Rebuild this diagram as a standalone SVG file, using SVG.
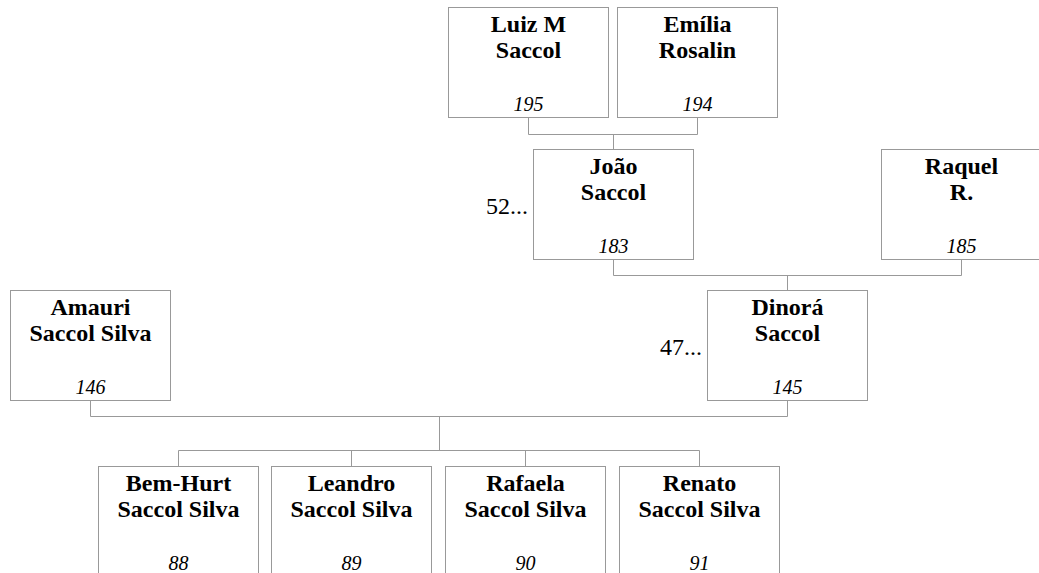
<svg xmlns="http://www.w3.org/2000/svg" width="1039" height="573" viewBox="0 0 1039 573">
<style>
.box{fill:#fff;stroke:#999;stroke-width:1}
.name{font-family:"Liberation Serif","Times New Roman",serif;font-weight:bold;font-size:24px;fill:#000;text-anchor:middle}
.num{font-family:"Liberation Serif","Times New Roman",serif;font-style:italic;font-size:20px;fill:#000;text-anchor:middle}
.side{font-family:"Liberation Serif","Times New Roman",serif;font-size:24px;fill:#000;text-anchor:end}
.conn{fill:none;stroke:#999;stroke-width:1}
</style>
<rect width="1039" height="573" fill="#fff"/>
<g id="connectors" class="conn">
<path d="M528.5 117.5 V134.5 H697.5 V117.5 M613.5 134.5 V149.5"/>
<path d="M613.5 258.5 V275.5 H961.5 V258.5 M787.5 275.5 V290.5"/>
<path d="M90.5 400.5 V416.5 H787.5 V400.5 M439.5 416.5 V450.5 M178.5 466.5 V450.5 H699.5 V466.5 M351.5 450.5 V466.5 M525.5 450.5 V466.5"/>
</g>
<g id="luiz"><rect class="box" x="448.5" y="7.5" width="160" height="110"/><text class="name" x="528.5" y="32">Luiz M</text><text class="name" x="528.5" y="58">Saccol</text><text class="num" x="528.5" y="111">195</text></g>
<g id="emilia"><rect class="box" x="617.5" y="7.5" width="160" height="110"/><text class="name" x="697.5" y="32">Emília</text><text class="name" x="697.5" y="58">Rosalin</text><text class="num" x="697.5" y="111">194</text></g>
<g id="joao"><rect class="box" x="533.5" y="149.5" width="160" height="110"/><text class="name" x="613.5" y="174">João</text><text class="name" x="613.5" y="200">Saccol</text><text class="num" x="613.5" y="253">183</text><text class="side" x="528" y="214">52...</text></g>
<g id="raquel"><rect class="box" x="881.5" y="149.5" width="160" height="110"/><text class="name" x="961.5" y="174">Raquel</text><text class="name" x="961.5" y="200">R.</text><text class="num" x="961.5" y="253">185</text></g>
<g id="amauri"><rect class="box" x="10.5" y="290.5" width="160" height="110"/><text class="name" x="90.5" y="315">Amauri</text><text class="name" x="90.5" y="341">Saccol Silva</text><text class="num" x="90.5" y="394">146</text></g>
<g id="dinora"><rect class="box" x="707.5" y="290.5" width="160" height="110"/><text class="name" x="787.5" y="315">Dinorá</text><text class="name" x="787.5" y="341">Saccol</text><text class="num" x="787.5" y="394">145</text><text class="side" x="702" y="355">47...</text></g>
<g id="benhurt"><rect class="box" x="98.5" y="466.5" width="160" height="110"/><text class="name" x="178.5" y="491">Bem-Hurt</text><text class="name" x="178.5" y="517">Saccol Silva</text><text class="num" x="178.5" y="570">88</text></g>
<g id="leandro"><rect class="box" x="271.5" y="466.5" width="160" height="110"/><text class="name" x="351.5" y="491">Leandro</text><text class="name" x="351.5" y="517">Saccol Silva</text><text class="num" x="351.5" y="570">89</text></g>
<g id="rafaela"><rect class="box" x="445.5" y="466.5" width="160" height="110"/><text class="name" x="525.5" y="491">Rafaela</text><text class="name" x="525.5" y="517">Saccol Silva</text><text class="num" x="525.5" y="570">90</text></g>
<g id="renato"><rect class="box" x="619.5" y="466.5" width="160" height="110"/><text class="name" x="699.5" y="491">Renato</text><text class="name" x="699.5" y="517">Saccol Silva</text><text class="num" x="699.5" y="570">91</text></g>
</svg>
